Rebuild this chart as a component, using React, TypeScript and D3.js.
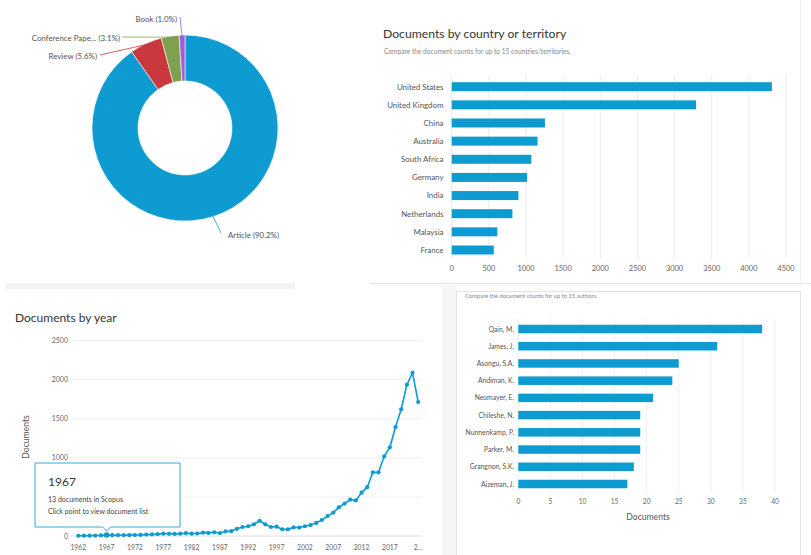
import React from "react";
import * as d3 from "d3";

const docTypes = ["Article", "Review", "Conference Pape...", "Book"];
const docTypeShares = [90.2, 5.6, 3.1, 1.0];
const docTypeColors = ["#0e9bd1", "#c8383c", "#7fa04e", "#9b5fd8"];

const countries = ["United States", "United Kingdom", "China", "Australia", "South Africa", "Germany", "India", "Netherlands", "Malaysia", "France"];
const countryCounts = [4310, 3290, 1255, 1155, 1072, 1015, 898, 817, 615, 566];
const countryTicks = [0, 500, 1000, 1500, 2000, 2500, 3000, 3500, 4000, 4500];

const years = [1962, 1963, 1964, 1965, 1966, 1967, 1968, 1969, 1970, 1971, 1972, 1973, 1974, 1975, 1976, 1977, 1978, 1979, 1980, 1981, 1982, 1983, 1984, 1985, 1986, 1987, 1988, 1989, 1990, 1991, 1992, 1993, 1994, 1995, 1996, 1997, 1998, 1999, 2000, 2001, 2002, 2003, 2004, 2005, 2006, 2007, 2008, 2009, 2010, 2011, 2012, 2013, 2014, 2015, 2016, 2017, 2018, 2019, 2020, 2021, 2022];
const yearCounts = [3, 4, 4, 6, 8, 13, 11, 10, 10, 11, 12, 14, 18, 20, 24, 30, 28, 27, 30, 36, 30, 32, 42, 40, 48, 38, 58, 62, 92, 115, 125, 150, 195, 150, 115, 120, 85, 85, 110, 108, 125, 140, 168, 205, 255, 300, 368, 415, 465, 456, 555, 625, 815, 815, 1020, 1135, 1395, 1622, 1935, 2090, 1715];
const yearTickLabels = ["1962", "1967", "1972", "1977", "1982", "1987", "1992", "1997", "2002", "2007", "2012", "2017", "2..."];
const yearValueTicks = [0, 500, 1000, 1500, 2000, 2500];

const authors = ["Qain, M.", "James, J.", "Asongu, S.A.", "Andiman, K.", "Neumayer, E.", "Chileshe, N.", "Nunnenkamp, P.", "Parker, M.", "Grangnon, S.K.", "Aizeman, J."];
const authorCounts = [38, 31, 25, 24, 21, 19, 19, 19, 18, 17];
const authorTicks = [0, 5, 10, 15, 20, 25, 30, 35, 40];

const FONT = "Lato, 'Open Sans', sans-serif";
const BLUE = "#0e9bd1";

function Donut() {
  const cx = 185, cy = 128, rO = 93, rI = 47;
  const pie = d3.pie<number>().sort(null).startAngle(0).endAngle(2 * Math.PI);
  const arcs = pie(docTypeShares);
  const arc = d3.arc<d3.PieArcDatum<number>>().innerRadius(rI).outerRadius(rO);
  const labelPos = [
    { x: 221, y: 233, anchor: "start", tx: 228, ty: 238 },
    { x: 100, y: 55, anchor: "end", tx: 97, ty: 59 },
    { x: 122, y: 37, anchor: "end", tx: 120, ty: 41 },
    { x: 180, y: 17, anchor: "end", tx: 177, ty: 22 },
  ];
  return (
    <g>
      {arcs.map((a, i) => (
        <path key={i} d={arc(a) || ""} transform={`translate(${cx},${cy})`} fill={docTypeColors[i]} stroke="#fff" strokeWidth={0.6} />
      ))}
      {arcs.map((a, i) => {
        const m = (a.startAngle + a.endAngle) / 2;
        const px = cx + (rO - 1) * Math.sin(m);
        const py = cy - (rO - 1) * Math.cos(m);
        const lp = labelPos[i];
        return (
          <g key={"l" + i}>
            <polyline points={`${px},${py} ${lp.x},${lp.y}`} fill="none" stroke={docTypeColors[i]} strokeWidth={0.8} />
            <text x={lp.tx} y={lp.ty} textAnchor={lp.anchor as any} fontSize={7.9} fill="#555" fontFamily={FONT}>
              {`${docTypes[i]} (${docTypeShares[i].toFixed(1)}%)`}
            </text>
          </g>
        );
      })}
    </g>
  );
}

function CountryChart() {
  const x = d3.scaleLinear().domain([0, 4500]).range([451.7, 786]);
  const y = d3.scalePoint<string>().domain(countries).range([86.7, 250]);
  const bh = 9;
  return (
    <g>
      <text x={383} y={38} fontSize={12.2} fill="#333" fontFamily={FONT}>Documents by country or territory</text>
      <text x={384} y={54} fontSize={6.6} fill="#888" fontFamily={FONT}>Compare the document counts for up to 15 countries/territories.</text>
      {countryTicks.map((t) => (
        <line key={t} x1={x(t)} x2={x(t)} y1={75} y2={259} stroke="#ececec" strokeWidth={1} />
      ))}
      {countries.map((c, i) => (
        <g key={c}>
          <rect x={x(0)} y={(y(c) as number) - bh / 2} width={x(countryCounts[i]) - x(0)} height={bh} fill={BLUE} />
          <text x={443.5} y={(y(c) as number) + 2.8} textAnchor="end" fontSize={7.9} fill="#555" fontFamily={FONT}>{c}</text>
        </g>
      ))}
      {countryTicks.map((t) => (
        <text key={"t" + t} x={x(t)} y={271} textAnchor="middle" fontSize={7.4} fill="#666" fontFamily={FONT}>{t}</text>
      ))}
      <clipPath id="cclip"><rect x={370} y={270} width={440} height={13} /></clipPath>
      <text x={619} y={290} textAnchor="middle" fontSize={8.5} fill="#666" fontFamily={FONT} clipPath="url(#cclip)">Documents</text>
    </g>
  );
}

function YearChart() {
  const x = d3.scaleLinear().domain([1962, 2022]).range([78.3, 418.2]);
  const y = d3.scaleLinear().domain([0, 2500]).range([536, 340.7]);
  const pts: [number, number][] = years.map((yr, i) => [x(yr), y(yearCounts[i])]);
  const line = d3.line();
  const tipYear = 1967;
  const tipIdx = years.indexOf(tipYear);
  const tx = x(tipYear);
  const tip = { x0: 35, x1: 180, y0: 463, y1: 527 };
  return (
    <g>
      <text x={15} y={322} fontSize={12} fill="#333" fontFamily={FONT}>Documents by year</text>
      {yearValueTicks.map((t) => (
        <g key={t}>
          <line x1={70} x2={421} y1={y(t)} y2={y(t)} stroke={t === 0 ? "#e0e0e0" : "#efefef"} strokeWidth={1} />
          {!(y(t) > tip.y0 && y(t) < tip.y1) && (
            <text x={68} y={y(t) + 2.5} textAnchor="end" fontSize={7} fill="#666" fontFamily={FONT}>{t}</text>
          )}
        </g>
      ))}
      <text transform={`translate(29,437) rotate(-90)`} textAnchor="middle" fontSize={8.6} fill="#555" fontFamily={FONT}>Documents</text>
      {yearTickLabels.map((l, i) => (
        <text key={l} x={x(1962 + i * 5)} y={549.5} textAnchor="middle" fontSize={6.8} fill="#666" fontFamily={FONT}>{l}</text>
      ))}
      <path d={line(pts) || ""} fill="none" stroke={BLUE} strokeWidth={1.6} />
      {pts.map((p, i) => (
        <circle key={i} cx={p[0]} cy={p[1]} r={i === tipIdx ? 2.8 : 2.1} fill={BLUE} />
      ))}
      <path d={`M${tip.x0},${tip.y0} H${tip.x1} V${tip.y1} H${tx + 4} L${tx},531 L${tx - 4},${tip.y1} H${tip.x0} Z`} fill="#fff" stroke="#3aa8d8" strokeWidth={1} />
      <text x={48} y={486} fontSize={12} fill="#333" fontFamily={FONT}>{tipYear}</text>
      <text x={48} y={501.5} fontSize={7} fill="#444" fontFamily={FONT}>{`${yearCounts[tipIdx]} documents in Scopus`}</text>
      <text x={48} y={514} fontSize={7} fill="#444" fontFamily={FONT}>Click point to view document list</text>
    </g>
  );
}

function AuthorChart() {
  const x = d3.scaleLinear().domain([0, 40]).range([518.3, 775]);
  const y = d3.scalePoint<string>().domain(authors).range([329, 484]);
  const bh = 8.5;
  return (
    <g>
      <text x={465} y={298} fontSize={5.8} fill="#888" fontFamily={FONT}>Compare the document counts for up to 15 authors.</text>
      {authorTicks.map((t) => (
        <line key={t} x1={x(t)} x2={x(t)} y1={318} y2={493} stroke="#efefef" strokeWidth={1} />
      ))}
      {authors.map((a, i) => (
        <g key={a}>
          <rect x={x(0)} y={(y(a) as number) - bh / 2} width={x(authorCounts[i]) - x(0)} height={bh} fill={BLUE} />
          <text x={514} y={(y(a) as number) + 2.5} textAnchor="end" fontSize={6.8} fill="#555" fontFamily={FONT}>{a}</text>
        </g>
      ))}
      {authorTicks.map((t) => (
        <text key={"t" + t} x={x(t)} y={504} textAnchor="middle" fontSize={6.6} fill="#666" fontFamily={FONT}>{t}</text>
      ))}
      <text x={648} y={520} textAnchor="middle" fontSize={8.6} fill="#555" fontFamily={FONT}>Documents</text>
    </g>
  );
}

export default function App() {
  return (
    <svg width={811} height={555} style={{ position: "absolute", left: 0, top: 0, background: "#fff" }}>
      <rect x={0} y={0} width={811} height={555} fill="#fff" />
      <rect x={5} y={283} width={290} height={6} fill="#f3f3f3" />
      <line x1={370} x2={811} y1={283.5} y2={283.5} stroke="#e4e4e4" />
      <line x1={800.5} x2={800.5} y1={0} y2={283} stroke="#f0f0f0" />
      <rect x={442} y={285} width={14} height={270} fill="#f6f6f6" />
      <rect x={456.5} y={291.5} width={344} height={270} fill="none" stroke="#e2e2e2" />
      <Donut />
      <CountryChart />
      <YearChart />
      <AuthorChart />
    </svg>
  );
}
